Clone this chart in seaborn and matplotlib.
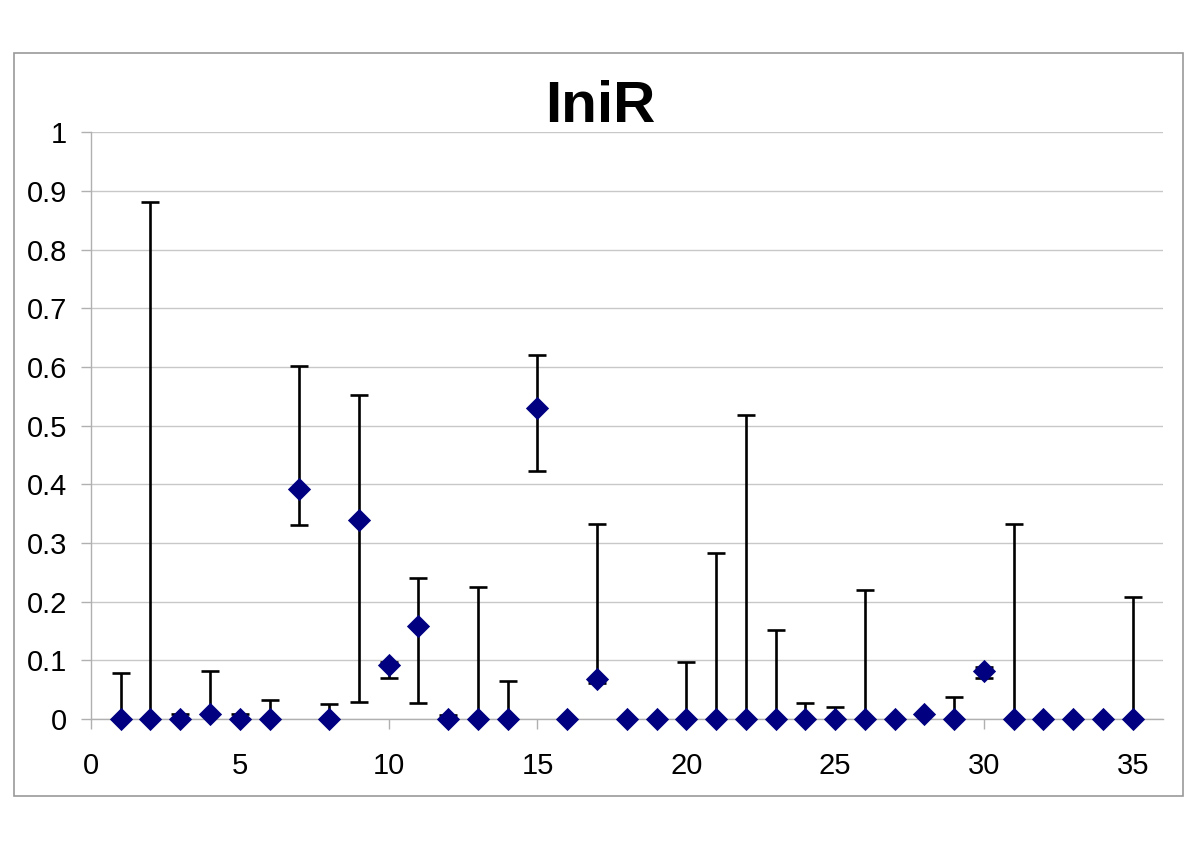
import numpy as np
import pandas as pd
import matplotlib
matplotlib.use("Agg")
import matplotlib.pyplot as plt
from matplotlib.patches import Rectangle
import seaborn as sns

# data
x = list(range(1, 36))
y = [0, 0, 0, 0.009, 0, 0, 0.392, 0, 0.339, 0.092, 0.158, 0, 0, 0, 0.531,
     0, 0.069, 0, 0, 0, 0, 0, 0, 0, 0, 0, 0, 0.008, 0, 0.082, 0, 0, 0, 0, 0]
upper = [0.078, 0.882, 0.008, 0.082, 0.008, 0.032, 0.601, 0.025, 0.552, 0.098,
         0.241, 0.007, 0.225, 0.065, 0.621, 0, 0.332, 0, 0, 0.098, 0.283, 0.519,
         0.151, 0.028, 0.021, 0.220, 0, 0.008, 0.037, 0.089, 0.332, 0, 0, 0, 0.208]
lower = [0, 0, 0, 0.008, 0, 0, 0.331, 0, 0.029, 0.070, 0.028, 0, 0, 0, 0.422,
         0, 0.061, 0, 0, 0, 0, 0, 0, 0, 0, 0, 0, 0.008, 0, 0.070, 0, 0, 0, 0, 0]

df = pd.DataFrame({"x": x, "y": y, "hi": upper, "lo": lower})

sns.set_style("white")
plt.rcParams["font.family"] = ["Liberation Sans", "DejaVu Sans"]
plt.rcParams["text.color"] = "black"
plt.rcParams["xtick.labelcolor"] = "black"
plt.rcParams["ytick.labelcolor"] = "black"

fig = plt.figure(figsize=(12, 8.48), dpi=100)
ax = fig.add_axes([0.0758, 0.152, 0.893, 0.692])

# outer chart border (Excel style)
fig.patches.append(Rectangle((0.0117, 0.0613), 0.974, 0.876, transform=fig.transFigure,
                             fill=False, edgecolor="#999999", linewidth=1.2))

yerr = np.array([df["y"] - df["lo"], df["hi"] - df["y"]])
ax.errorbar(df["x"], df["y"], yerr=yerr, fmt="none", ecolor="black",
            elinewidth=1.9, capsize=6.5, capthick=1.9, zorder=2)
sns.scatterplot(data=df, x="x", y="y", marker="D", s=140, color="#000080",
                edgecolor="#000080", linewidth=0, ax=ax, zorder=3, clip_on=False)

ax.set_xlim(0, 36)
ax.set_ylim(0, 1)
ax.set_xticks(range(0, 36, 5))
ax.set_yticks(np.round(np.arange(0, 1.01, 0.1), 1))
ax.set_yticklabels(["0", "0.1", "0.2", "0.3", "0.4", "0.5", "0.6", "0.7", "0.8", "0.9", "1"])
ax.grid(axis="y", color="#c8c8c8", linewidth=1)
ax.set_axisbelow(True)
for s in ["top", "right"]:
    ax.spines[s].set_visible(False)
for s in ["left", "bottom"]:
    ax.spines[s].set_color("#b0b0b0")
    ax.spines[s].set_linewidth(1)
ax.tick_params(axis="both", which="major", direction="out", length=7, width=1,
               color="#b0b0b0", labelsize=21, left=True, bottom=True, labelcolor="black")
ax.tick_params(axis="x", pad=17)
ax.tick_params(axis="y", pad=10)
ax.set_xlabel("")
ax.set_ylabel("")

fig.text(0.5, 0.856, "IniR", ha="center", va="baseline", fontsize=42,
         fontweight="bold", color="black")

fig.savefig("out.png", dpi=100)
